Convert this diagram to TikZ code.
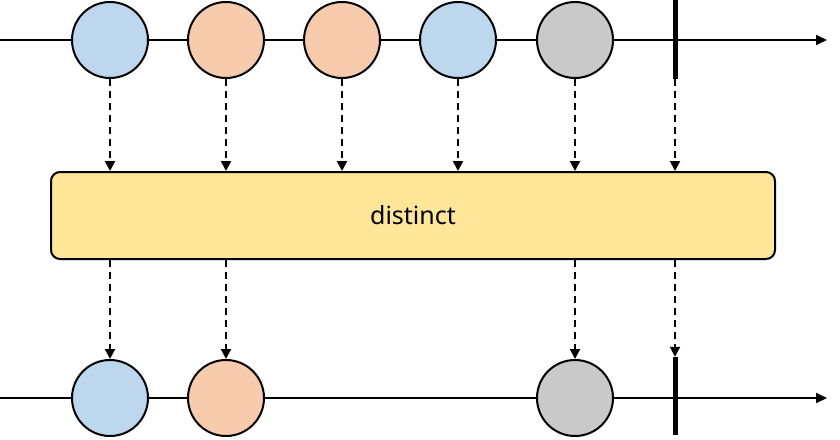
\documentclass[tikz,border=0pt]{standalone}
\usepackage{fontspec}
\setmainfont{Noto Sans}
\usetikzlibrary{arrows.meta}
\definecolor{cblue}{HTML}{BDD7EE}
\definecolor{corange}{HTML}{F8CBAD}
\definecolor{cgray}{HTML}{C9C9C9}
\definecolor{cyellow}{HTML}{FFE699}
\tikzset{
  marble/.style={circle, draw=black, line width=2pt, minimum size=76pt, inner sep=0pt},
  endbar/.style={rectangle, fill=black, minimum width=5pt, minimum height=78pt, inner sep=0pt},
  timeline/.style={line width=2pt, -{Triangle[length=11pt,width=10pt]}},
  dasharrow/.style={line width=2pt, dash pattern=on 7pt off 5pt, -{Triangle[length=10pt,width=10pt]}},
  opbox/.style={rectangle, rounded corners=9pt, draw=black, line width=2pt, fill=cyellow, minimum width=724pt, minimum height=87pt, font=\fontsize{25pt}{30pt}\selectfont}
}
\begin{document}
\begin{tikzpicture}[x=1pt,y=-1pt]
\useasboundingbox (0,0) rectangle (840,439);
% top timeline
\coordinate (tl0) at (0,40);
\coordinate (tl1) at (827,40);
\draw[timeline] (tl0) -- (tl1);
\node[marble, fill=cblue] (t1) at (110,40) {};
\node[marble, fill=corange] (t2) at (226,40) {};
\node[marble, fill=corange] (t3) at (342,40) {};
\node[marble, fill=cblue] (t4) at (458,40) {};
\node[marble, fill=cgray] (t5) at (575,40) {};
\node[endbar] (tb) at (675,39.5) {};
% operator box
\node[opbox] (box) at (413,215.5) {distinct};
% bottom timeline
\coordinate (bl0) at (0,398);
\coordinate (bl1) at (827,398);
\draw[timeline] (bl0) -- (bl1);
\node[marble, fill=cblue] (b1) at (110,398) {};
\node[marble, fill=corange] (b2) at (226,398) {};
\node[marble, fill=cgray] (b5) at (575,398) {};
\node[endbar] (bb) at (675,396) {};
% top arrows
\foreach \n in {t1,t2,t3,t4,t5,tb}
  \draw[dasharrow] (\n.south) -- (\n.south |- box.north);
% bottom arrows
\foreach \n in {b1,b2,b5,bb}
  \draw[dasharrow] (\n.north |- box.south) -- (\n.north);
\end{tikzpicture}
\end{document}
